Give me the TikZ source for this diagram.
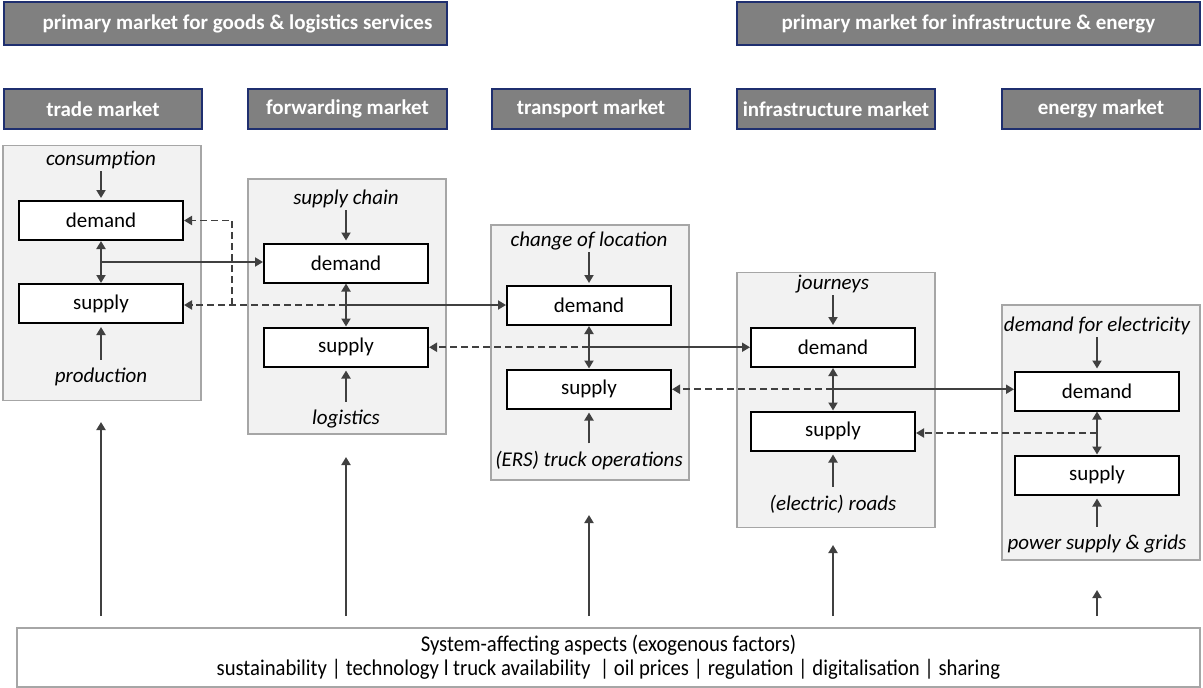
\documentclass[tikz,border=0pt]{standalone}
\usepackage{fontspec}
\setmainfont{Carlito}
\newfontfamily\narrowfont[FakeStretch=0.92]{Carlito}
\usetikzlibrary{arrows.meta,positioning,calc}
\definecolor{hdrfill}{HTML}{808080}
\definecolor{hdrline}{HTML}{1F2F6F}
\definecolor{panelfill}{HTML}{F2F2F2}
\definecolor{panelline}{HTML}{A6A6A6}
\definecolor{arrowgray}{HTML}{404040}
\tikzset{
  header/.style={draw=hdrline, line width=1.5pt, fill=hdrfill, text=white,
    font=\fontsize{21}{24}\selectfont\bfseries, minimum height=43pt, inner sep=0pt},
  panel/.style={draw=panelline, line width=1.5pt, fill=panelfill,
    minimum width=198pt, minimum height=255pt},
  dsbox/.style={draw=black, line width=2pt, fill=white, minimum width=164pt,
    minimum height=39pt, font=\fontsize{21}{24}\selectfont},
  drivertext/.style={font=\fontsize{21}{24}\selectfont\itshape, inner sep=2pt},
  flow/.style={-{Triangle[length=8pt,width=9pt]}, line width=1.8pt, draw=arrowgray},
  flowdash/.style={flow, dash pattern=on 7pt off 4pt},
  twoway/.style={{Triangle[length=8pt,width=9pt]}-{Triangle[length=8pt,width=9pt]},
    line width=1.8pt, draw=arrowgray},
  riseup/.style={flow, shorten <=11pt}
}

\begin{document}
\begin{tikzpicture}[x=1pt,y=-1pt]
  \useasboundingbox (0,0) rectangle (1203,688);
  % primary markets
  \node[header, minimum width=443pt] (goodsH) at (225.5,23.5) {\hspace{24pt}primary market for goods \& logistics services};
  \node[header, minimum width=463pt] (infraH) at (968.5,23.5) {primary market for infrastructure \& energy};
  % single markets
  \node[header, minimum width=198pt, minimum height=40pt] (trH) at (103,109) {trade market};
  \node[header, minimum width=199pt, minimum height=40pt] (fwH) at (347.5,109) {forwarding market};
  \node[header, minimum width=198pt, minimum height=40pt] (tpH) at (591,109) {transport market};
  \node[header, minimum width=198pt, minimum height=40pt] (ifH) at (836,109) {infrastructure market};
  \node[header, minimum width=198pt, minimum height=40pt] (enH) at (1101,109) {energy market};

  % market panels
  \node[panel] (trP) at (102,273) {};
  \node[panel] (fwP) at (347,306.5) {};
  \node[panel] (tpP) at (590,352.5) {};
  \node[panel] (ifP) at (836,400) {};
  \node[panel] (enP) at (1101,432.5) {};

  % demand and supply
  \node[dsbox] (trD) at (101,220.5) {demand};
  \node[dsbox] (trS) at (101,303.5) {supply};
  \node[dsbox] (fwD) at (346,263) {demand};
  \node[dsbox] (fwS) at (346,347) {supply};
  \node[dsbox] (tpD) at (589,305.5) {demand};
  \node[dsbox] (tpS) at (589,389) {supply};
  \node[dsbox] (ifD) at (833,347.5) {demand};
  \node[dsbox] (ifS) at (833,431) {supply};
  \node[dsbox] (enD) at (1097,391) {demand};
  \node[dsbox] (enS) at (1097,475) {supply};

  % drivers
  \node[drivertext] (trIn) at (101,160) {consumption};
  \node[drivertext] (trOut) at (101,377) {production};
  \node[drivertext] (fwIn) at (346,199) {supply chain};
  \node[drivertext] (fwOut) at (346,419) {logistics};
  \node[drivertext] (tpIn) at (589,241) {change of location};
  \node[drivertext] (tpOut) at (589,461) {(ERS) truck operations};
  \node[drivertext] (ifIn) at (833,284) {journeys};
  \node[drivertext] (ifOut) at (833,504) {(electric) roads};
  \node[drivertext] (enIn) at (1097,326) {demand for electricity};
  \node[drivertext] (enOut) at (1097,544) {power supply \& grids};

  \foreach \m in {tr,fw,tp,if,en}{
    \draw[flow, shorten >=2pt] (\m In) -- (\m D);
    \draw[flow, shorten <=6pt, shorten >=3pt] (\m Out) -- (\m S);
    \draw[twoway] (\m D) -- (\m S);
    \coordinate (\m M) at ($(\m D.south)!0.5!(\m S.north)$);
  }

  % links between markets
  \coordinate (fwJ) at ($(fwM)+(-114,0)$);
  \draw[flowdash] (fwJ) |- (trD.east);
  \draw[flowdash] (fwM) -- (fwM -| trS.east);
  \draw[flow] (trM) -- (trM -| fwD.west);
  \draw[flowdash] (tpM) -- (tpM -| fwS.east);
  \draw[flow] (fwM) -- (fwM -| tpD.west);
  \draw[flowdash] (ifM) -- (ifM -| tpS.east);
  \draw[flow] (tpM) -- (tpM -| ifD.west);
  \draw[flowdash] (enM) -- (enM -| ifS.east);
  \draw[flow] (ifM) -- (ifM -| enD.west);

  % exogenous factors
  \node[draw=panelline, line width=2pt, minimum width=1183pt, minimum height=59pt,
    align=center, font=\narrowfont\fontsize{22.5}{24}\selectfont] (sys) at (608.5,657.5)
    {System-affecting aspects (exogenous factors)\\
     sustainability | technology l truck availability~ | oil prices | regulation | digitalisation | sharing};
  \coordinate (trT) at (101,422);
  \coordinate (fwT) at (346,457);
  \coordinate (tpT) at (589,515);
  \coordinate (ifT) at (833,545);
  \coordinate (enT) at (1097,590);
  \foreach \m in {tr,fw,tp,if,en}
    \draw[riseup] (sys.north -| \m T) -- (\m T);
\end{tikzpicture}
\end{document}
